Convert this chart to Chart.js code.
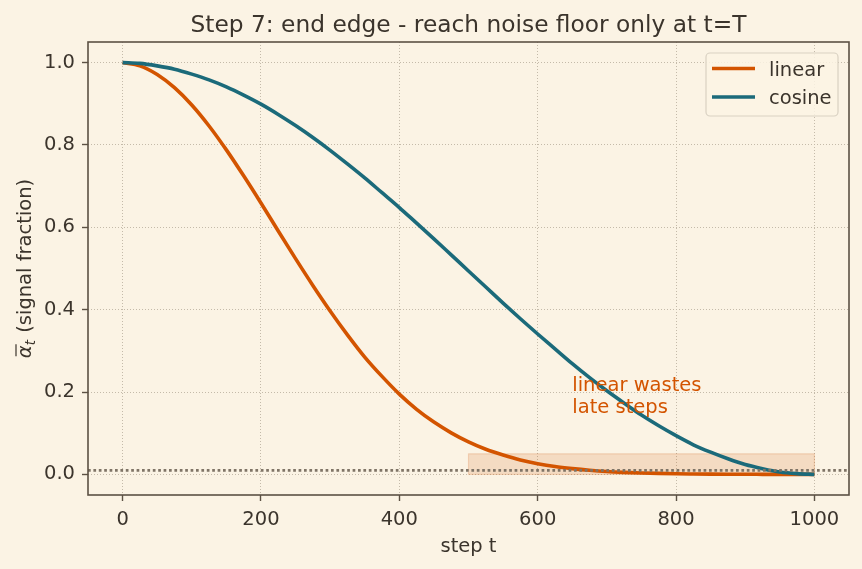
<!DOCTYPE html>
<html lang="en">
<head>
<meta charset="UTF-8">
<title>Step 7: end edge</title>
<script src="https://cdn.jsdelivr.net/npm/chart.js"></script>
<style>
  html, body { margin: 0; padding: 0; background: #fbf3e4; }
</style>
</head>
<body>
<canvas id="chart" width="862" height="569"></canvas>
<script>
// values
const steps = [0, 25, 50, 75, 100, 125, 150, 175, 200, 225, 250, 275, 300, 325, 350, 375, 400, 425, 450, 475,
               500, 525, 550, 575, 600, 625, 650, 675, 700, 725, 750, 775, 800, 825, 850, 875, 900, 925, 950, 975, 1000];
const linearAlpha = [1.000, 0.992, 0.971, 0.939, 0.897, 0.846, 0.788, 0.725, 0.659, 0.591, 0.524, 0.459, 0.397, 0.339, 0.285, 0.238, 0.195, 0.158, 0.127, 0.101,
                     0.079, 0.061, 0.047, 0.035, 0.026, 0.019, 0.014, 0.010, 0.007, 0.005, 0.0035, 0.0024, 0.0016, 0.0011, 0.0007, 0.0005, 0.0003, 0.0002, 0.0001, 0.0001, 0.0000];
const cosineAlpha = [1.000, 0.998, 0.992, 0.984, 0.972, 0.958, 0.941, 0.921, 0.899, 0.874, 0.847, 0.818, 0.787, 0.754, 0.720, 0.684, 0.648, 0.610, 0.572, 0.533,
                     0.494, 0.455, 0.416, 0.378, 0.341, 0.305, 0.269, 0.235, 0.203, 0.173, 0.144, 0.118, 0.094, 0.072, 0.054, 0.038, 0.024, 0.014, 0.006, 0.002, 0.000];
const xTicks = [0, 200, 400, 600, 800, 1000];
const yTicks = [0, 0.2, 0.4, 0.6, 0.8, 1.0];
const noiseFloor = 0.01;
const wasteX = [500, 1000];
const wasteY = [0, 0.05];
const noteLines = ['linear wastes', 'late steps'];
const noteAt = [650, 0.15];

const FONT = '"DejaVu Sans", sans-serif';
const INK = '#3b342c';
const ORANGE = '#d35400';
const TEAL = '#1b6a7a';

const decor = {
  id: 'decor',
  beforeDraw(chart) {
    const ctx = chart.ctx;
    ctx.save();
    ctx.fillStyle = '#fbf3e4';
    ctx.fillRect(0, 0, chart.width, chart.height);
    ctx.restore();
  },
  beforeDatasetsDraw(chart) {
    const { ctx, scales: { x, y } } = chart;
    const x0 = x.getPixelForValue(wasteX[0]), x1 = x.getPixelForValue(wasteX[1]);
    const y0 = y.getPixelForValue(wasteY[0]), y1 = y.getPixelForValue(wasteY[1]);
    ctx.save();
    ctx.fillStyle = 'rgba(211,84,0,0.15)';
    ctx.fillRect(x0, y1, x1 - x0, y0 - y1);
    ctx.strokeStyle = 'rgba(211,84,0,0.18)';
    ctx.lineWidth = 1.2;
    ctx.strokeRect(x0, y1, x1 - x0, y0 - y1);
    ctx.restore();
  },
  afterDatasetsDraw(chart) {
    const { ctx, chartArea: a, scales: { x, y } } = chart;
    ctx.save();
    // noise floor
    const fy = y.getPixelForValue(noiseFloor);
    ctx.strokeStyle = '#7f7466';
    ctx.lineWidth = 2.7;
    ctx.setLineDash([2.7, 2.7]);
    ctx.beginPath();
    ctx.moveTo(a.left, fy);
    ctx.lineTo(a.right, fy);
    ctx.stroke();
    ctx.setLineDash([]);
    // annotation
    ctx.fillStyle = ORANGE;
    ctx.font = '19.5px ' + FONT;
    ctx.textAlign = 'left';
    ctx.textBaseline = 'alphabetic';
    const nx = x.getPixelForValue(noteAt[0]);
    const ny = y.getPixelForValue(noteAt[1]);
    ctx.fillText(noteLines[0], nx, ny - 22);
    ctx.fillText(noteLines[1], nx, ny);
    ctx.restore();
  },
  afterDraw(chart) {
    const { ctx, chartArea: a } = chart;
    ctx.save();
    // frame
    ctx.strokeStyle = '#5c5144';
    ctx.lineWidth = 1.6;
    ctx.strokeRect(a.left, a.top, a.right - a.left, a.bottom - a.top);

    // legend
    const lx = 706, ly = 53, lw = 132, lh = 63;
    ctx.beginPath();
    ctx.roundRect(lx, ly, lw, lh, 4);
    ctx.fillStyle = 'rgba(251,243,228,0.85)';
    ctx.fill();
    ctx.strokeStyle = '#d9d1c2';
    ctx.lineWidth = 1.2;
    ctx.stroke();
    ctx.font = '19.5px ' + FONT;
    ctx.textBaseline = 'alphabetic';
    ctx.textAlign = 'left';
    chart.data.datasets.forEach((ds, i) => {
      const yy = 68.5 + i * 28.5;
      ctx.strokeStyle = ds.borderColor;
      ctx.lineWidth = ds.borderWidth;
      ctx.beginPath();
      ctx.moveTo(712, yy);
      ctx.lineTo(755, yy);
      ctx.stroke();
      ctx.fillStyle = INK;
      ctx.fillText(ds.label, 769, yy + 7);
    });

    // title
    const cx = (a.left + a.right) / 2;
    ctx.fillStyle = INK;
    ctx.textAlign = 'center';
    ctx.font = '23.3px ' + FONT;
    ctx.fillText('Step 7: end edge - reach noise floor only at t=T', cx, 32);

    // x label
    ctx.font = '19.5px ' + FONT;
    ctx.fillText('step t', cx, 552);

    // y label: alpha-bar_t (signal fraction)
    const cy = (a.top + a.bottom) / 2;
    ctx.translate(31, cy);
    ctx.rotate(-Math.PI / 2);
    const fA = 'italic 19.5px ' + FONT;
    const fT = 'italic 13.6px ' + FONT;
    const fR = '19.5px ' + FONT;
    ctx.font = fA; const wA = ctx.measureText('α').width;
    ctx.font = fT; const wT = ctx.measureText('t').width;
    ctx.font = fR; const rest = ' (signal fraction)'; const wR = ctx.measureText(rest).width;
    let px = -(wA + wT + 1 + wR) / 2;
    ctx.textAlign = 'left';
    ctx.font = fA; ctx.fillText('α', px, 0);
    ctx.strokeStyle = INK;
    ctx.lineWidth = 1.2;
    ctx.beginPath();
    ctx.moveTo(px + 2, -15);
    ctx.lineTo(px + wA + 1, -15);
    ctx.stroke();
    px += wA;
    ctx.font = fT; ctx.fillText('t', px, 4);
    px += wT + 1;
    ctx.font = fR; ctx.fillText(rest, px, 0);
    ctx.restore();
  }
};

new Chart(document.getElementById('chart'), {
  type: 'line',
  data: {
    labels: steps,
    datasets: [
      { label: 'linear', data: linearAlpha, borderColor: ORANGE, borderWidth: 3.6, order: 1 },
      { label: 'cosine', data: cosineAlpha, borderColor: TEAL, borderWidth: 3.6, order: 0 }
    ]
  },
  options: {
    responsive: false,
    animation: false,
    layout: { padding: { top: 42, right: 13, left: 0, bottom: 0 } },
    elements: {
      point: { radius: 0 },
      line: { cubicInterpolationMode: 'monotone', fill: false }
    },
    plugins: { legend: { display: false }, title: { display: false }, tooltip: { enabled: false } },
    scales: {
      x: {
        type: 'linear',
        min: -50, max: 1050,
        afterFit(s) { s.height = 74; },
        afterBuildTicks(s) { s.ticks = xTicks.map(v => ({ value: v })); },
        border: { display: false, dash: [1, 2] },
        grid: { color: '#c4baa9', lineWidth: 1, tickColor: '#5c5144', tickLength: 6, tickWidth: 1.4, tickBorderDash: [] },
        ticks: { color: INK, font: { family: FONT, size: 19.5 }, padding: 7, maxRotation: 0, callback: v => String(v) }
      },
      y: {
        min: -0.05, max: 1.05,
        afterFit(s) { s.width = 88; },
        afterBuildTicks(s) { s.ticks = yTicks.map(v => ({ value: v })); },
        border: { display: false, dash: [1, 2] },
        grid: { color: '#c4baa9', lineWidth: 1, tickColor: '#5c5144', tickLength: 6, tickWidth: 1.4, tickBorderDash: [] },
        ticks: { color: INK, font: { family: FONT, size: 19.5 }, padding: 7, callback: v => v.toFixed(1) }
      }
    }
  },
  plugins: [decor]
});
</script>
</body>
</html>
